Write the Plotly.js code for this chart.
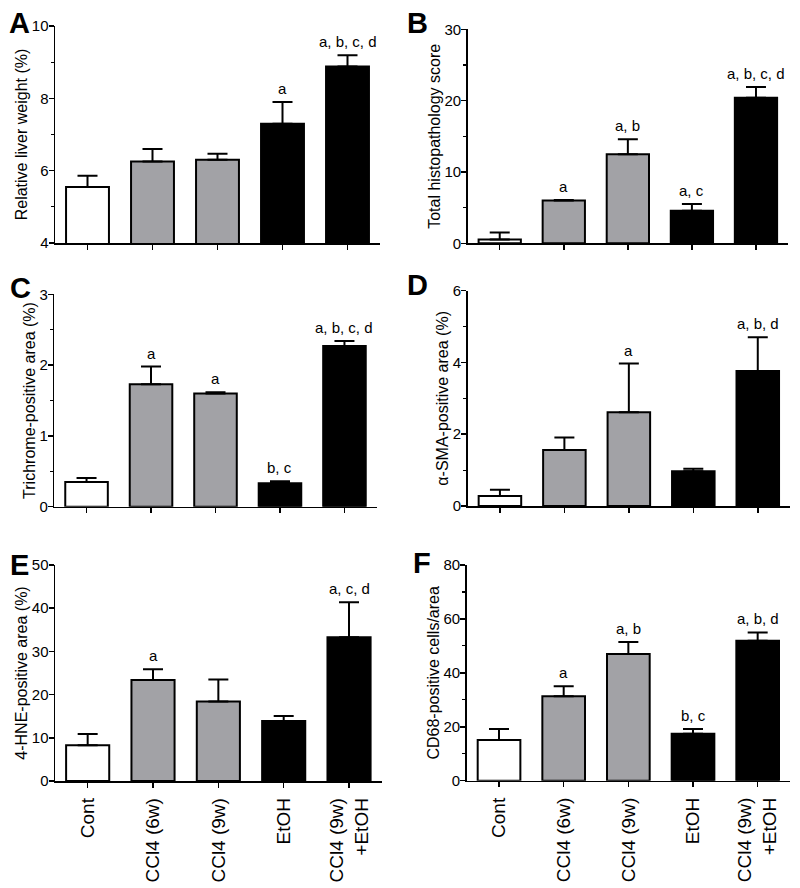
<!DOCTYPE html>
<html>
<head>
<meta charset="utf-8">
<script src="https://cdn.plot.ly/plotly-3.0.1.min.js"></script>
<style>html,body{margin:0;padding:0;background:#fff;}#chart{width:800px;height:888px;}</style>
</head>
<body>
<div id="chart"></div>
<script>
// ---- data ----
const categories = ["Cont", "CCl4 (6w)", "CCl4 (9w)", "EtOH", "CCl4 (9w)<br>+EtOH"];
const barColors = ["#ffffff", "#a2a2a6", "#a2a2a6", "#000000", "#000000"];

const panelLetters = ["A", "B", "C", "D", "E", "F"];
const yTitles = [
  "Relative liver weight (%)",
  "Total histopathology score",
  "Trichrome-positive area (%)",
  "\u03b1-SMA-positive area (%)",
  "4-HNE-positive area (%)",
  "CD68-positive cells/area"
];

const liverWeightMean = [5.55, 6.25, 6.30, 7.30, 8.88];
const liverWeightSem  = [0.31, 0.35, 0.17, 0.60, 0.31];
const histoMean = [0.55, 6.0, 12.5, 4.55, 20.4];
const histoSem  = [0.98, 0.08, 2.1, 0.95, 1.5];
const trichromeMean = [0.35, 1.73, 1.60, 0.33, 2.27];
const trichromeSem  = [0.055, 0.25, 0.015, 0.03, 0.07];
const smaMean = [0.28, 1.56, 2.61, 0.97, 3.76];
const smaSem  = [0.17, 0.35, 1.36, 0.07, 0.94];
const hneMean = [8.3, 23.4, 18.4, 13.9, 33.3];
const hneSem  = [2.6, 2.45, 5.1, 1.15, 8.1];
const cd68Mean = [15.1, 31.3, 47.0, 17.4, 51.9];
const cd68Sem  = [4.1, 3.7, 4.4, 1.8, 3.1];

const sigA = ["", "", "", "a", "a, b, c, d"];
const sigB = ["", "a", "a, b", "a, c", "a, b, c, d"];
const sigC = ["", "a", "a", "b, c", "a, b, c, d"];
const sigD = ["", "", "a", "", "a, b, d"];
const sigE = ["", "a", "", "", "a, c, d"];
const sigF = ["", "a", "a, b", "b, c", "a, b, d"];

const yRanges = [[4, 10], [0, 30], [0, 3], [0, 6], [0, 50], [0, 80]];
const yDticks = [2, 10, 1, 2, 10, 20];
const yMinorDticks = [1, 5, 0.5, 1, null, 10];

// ---- layout geometry (pixels) ----
const W = 800, H = 888;
const boxes = [
  {x0: 55,   x1: 380,   y0: 26,    y1: 243},
  {x0: 467.7,x1: 788,   y0: 29.3,  y1: 243.3},
  {x0: 54.3, x1: 376.7, y0: 294.3, y1: 506.7},
  {x0: 467.7,x1: 790,   y0: 290.7, y1: 506},
  {x0: 55,   x1: 381.7, y0: 565,   y1: 781},
  {x0: 466.7,x1: 790,   y0: 565,   y1: 780.7}
];
const letterPos = [[7, 23], [405, 23], [8, 288], [405, 285], [8, 565], [411, 563]];

const means = [liverWeightMean, histoMean, trichromeMean, smaMean, hneMean, cd68Mean];
const sems = [liverWeightSem, histoSem, trichromeSem, smaSem, hneSem, cd68Sem];
const sigs = [sigA, sigB, sigC, sigD, sigE, sigF];

const FONT = "Liberation Sans, Arial, sans-serif";
const traces = [];
const layout = {
  width: W, height: H,
  margin: {l: 0, r: 0, t: 0, b: 0},
  paper_bgcolor: "#ffffff",
  plot_bgcolor: "#ffffff",
  showlegend: false,
  bargap: 0.34,
  font: {family: FONT, color: "#000"},
  annotations: []
};

for (let i = 0; i < 6; i++) {
  const n = i + 1;
  const xa = n === 1 ? "x" : "x" + n;
  const ya = n === 1 ? "y" : "y" + n;
  const xk = n === 1 ? "xaxis" : "xaxis" + n;
  const yk = n === 1 ? "yaxis" : "yaxis" + n;
  const b = boxes[i];
  const bottomRow = i >= 4;

  traces.push({
    type: "bar",
    x: categories,
    y: means[i],
    xaxis: xa, yaxis: ya,
    marker: {color: barColors, line: {color: "#000", width: 2}},
    error_y: {
      type: "data", symmetric: false,
      array: sems[i], arrayminus: sems[i].map(() => 0),
      color: "#000", thickness: 2, width: 10
    },
    hoverinfo: "skip"
  });

  layout[xk] = {
    domain: [b.x0 / W, b.x1 / W],
    anchor: ya,
    type: "category",
    range: [-0.5, 4.5],
    showline: true, linecolor: "#000", linewidth: 1.5,
    ticks: "outside", ticklen: 5, tickwidth: 1.5, tickcolor: "#000",
    showgrid: false, zeroline: false,
    showticklabels: bottomRow,
    tickangle: -90,
    ticklabelstandoff: 3,
    tickfont: {family: FONT, size: 19, color: "#000"},
    fixedrange: true
  };

  const yaxis = {
    domain: [1 - b.y1 / H, 1 - b.y0 / H],
    anchor: xa,
    range: yRanges[i],
    dtick: yDticks[i],
    tick0: 0,
    showline: true, linecolor: "#000", linewidth: 1.5,
    ticks: "outside", ticklen: 5, tickwidth: 1.5, tickcolor: "#000",
    ticklabelstandoff: -3,
    showgrid: false, zeroline: false,
    tickfont: {family: FONT, size: 15, color: "#000"},
    title: {text: yTitles[i], font: {family: FONT, size: 16, color: "#000"}, standoff: 0},
    fixedrange: true
  };
  if (yMinorDticks[i]) {
    yaxis.minor = {dtick: yMinorDticks[i], ticks: "outside", ticklen: 3, tickwidth: 1.2, tickcolor: "#000", showgrid: false};
  }
  layout[yk] = yaxis;

  // significance letters
  for (let k = 0; k < categories.length; k++) {
    if (!sigs[i][k]) continue;
    layout.annotations.push({
      xref: xa, yref: ya,
      x: categories[k], y: means[i][k] + sems[i][k],
      text: sigs[i][k], showarrow: false,
      xanchor: "center", yanchor: "bottom", yshift: 3,
      font: {family: FONT, size: 15, color: "#000"}
    });
  }

  // panel letter
  layout.annotations.push({
    xref: "paper", yref: "paper",
    x: letterPos[i][0] / W, y: 1 - letterPos[i][1] / H,
    xanchor: "left", yanchor: "middle",
    text: "<b>" + panelLetters[i] + "</b>", showarrow: false,
    font: {family: FONT, size: 29, color: "#000"}
  });
}

Plotly.newPlot("chart", traces, layout, {displayModeBar: false, staticPlot: true});
</script>
</body>
</html>
